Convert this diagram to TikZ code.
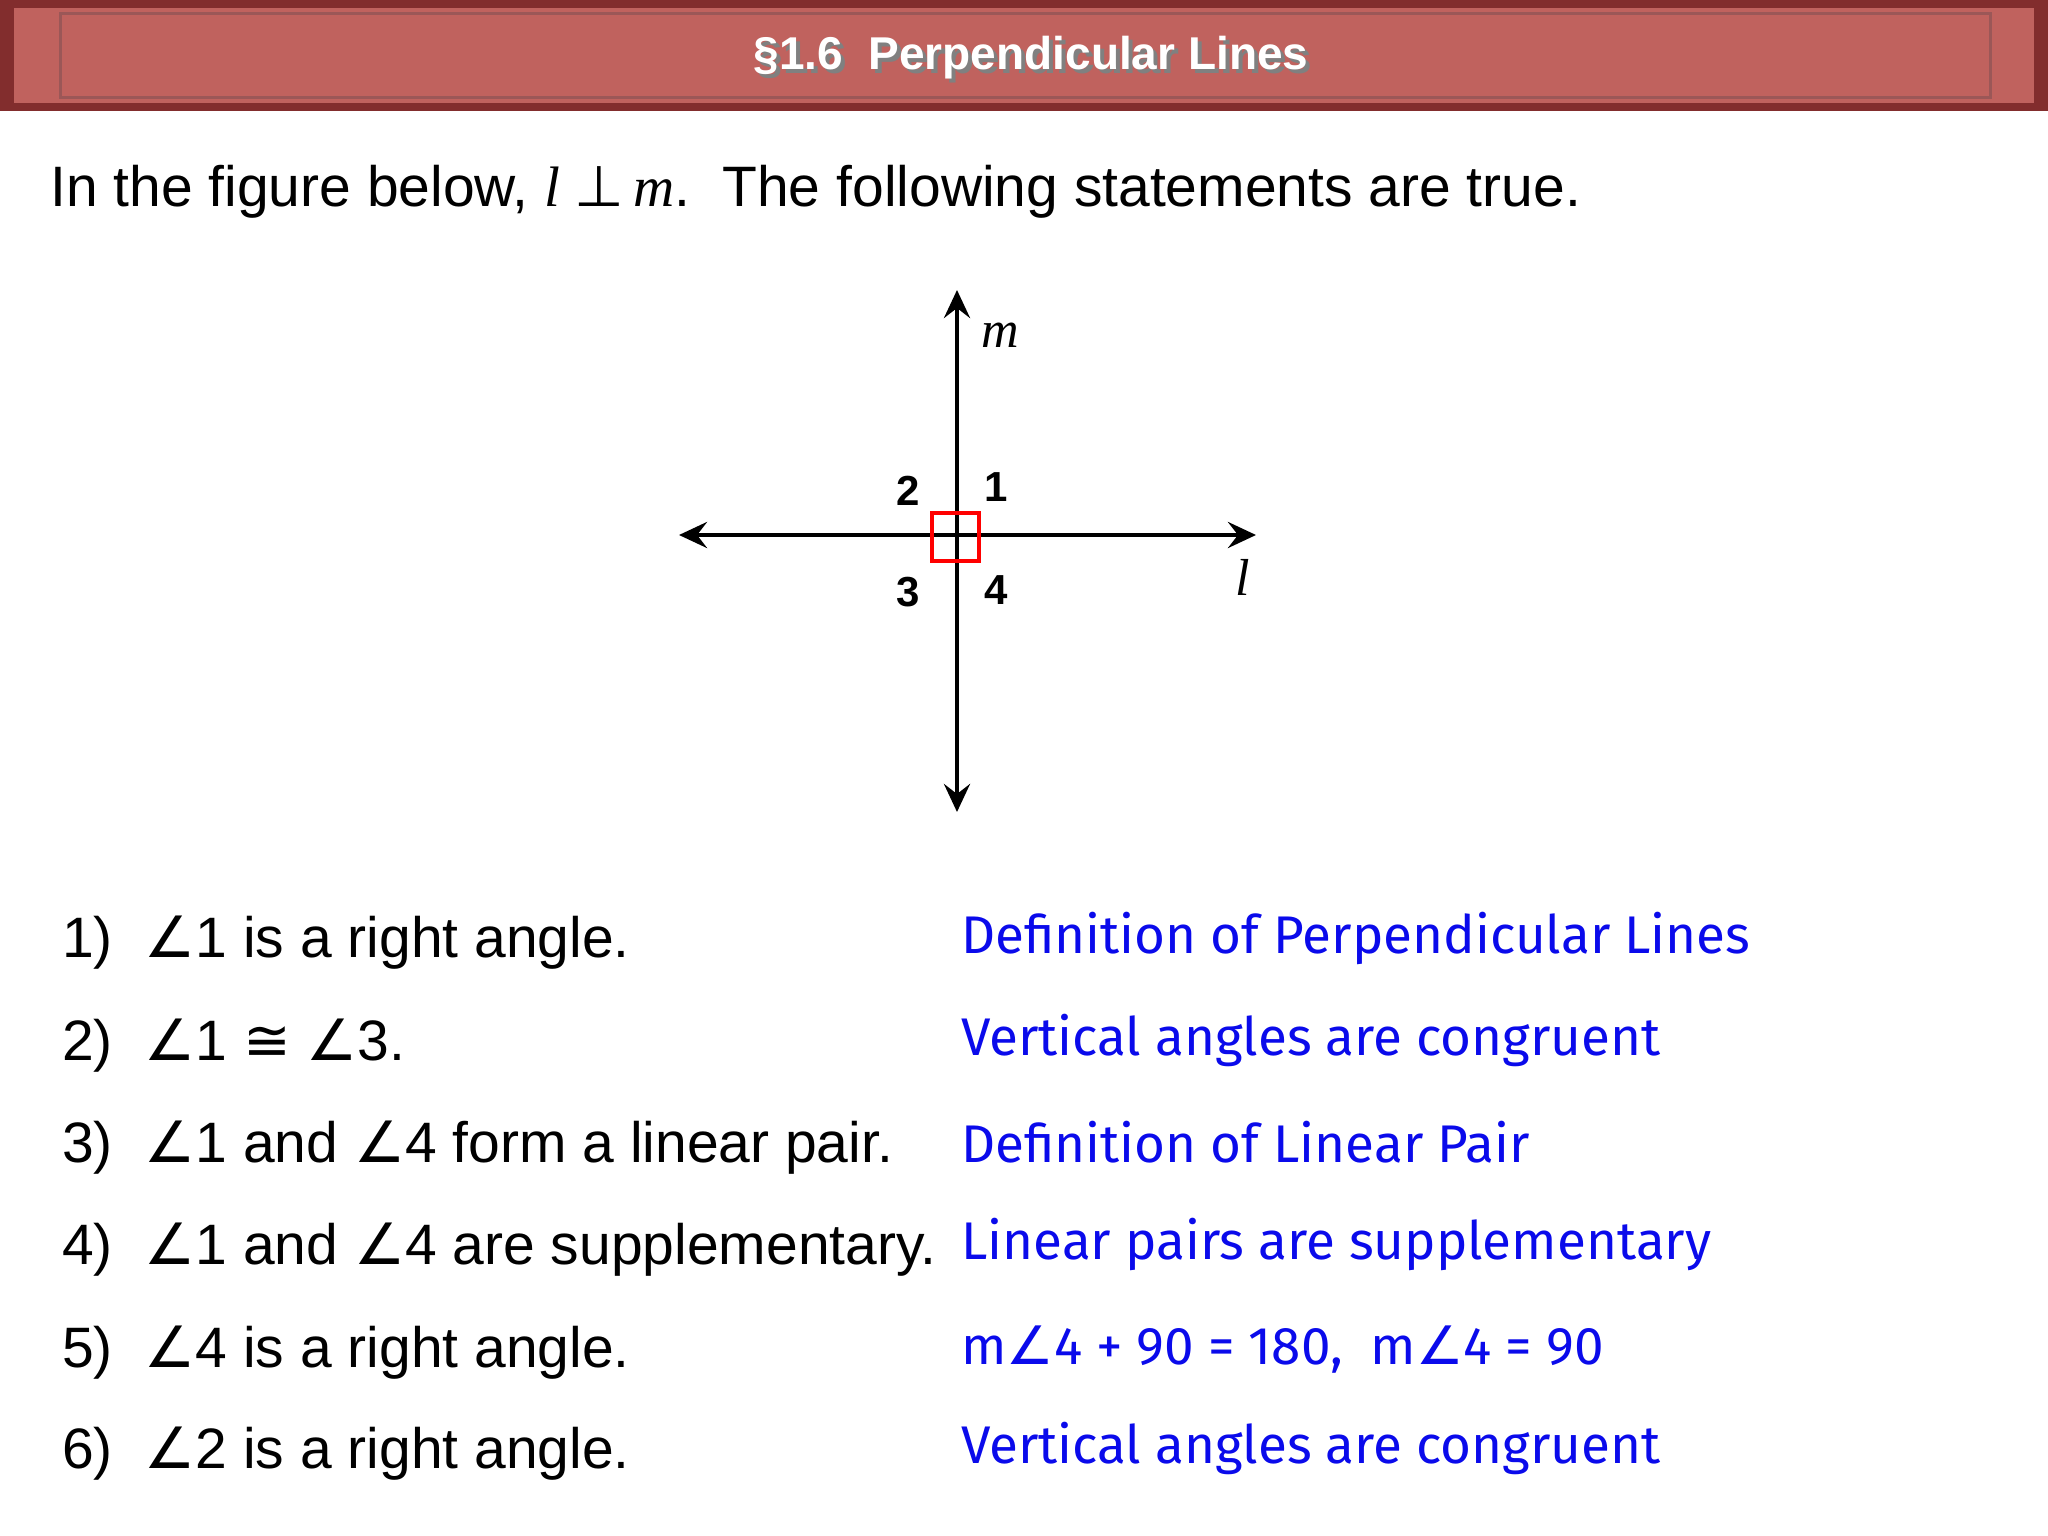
\documentclass[tikz,border=0pt]{standalone}
\usepackage{fontspec}
\setmainfont{Liberation Sans}
\newfontfamily\serifit{Liberation Serif}
\newfontfamily\handfont{Fira Sans}
\newfontfamily\symf{DejaVu Sans}
\newcommand{\ang}{{\symf ∠}}
\usetikzlibrary{arrows.meta}
\definecolor{barred}{RGB}{192,98,94}
\definecolor{bardark}{RGB}{130,45,45}
\definecolor{handblue}{RGB}{10,10,235}
\tikzset{
  stmt/.style={anchor=west,font=\fontsize{57}{62}\selectfont,inner sep=0},
  reason/.style={anchor=west,font=\handfont\fontsize{53}{58}\selectfont,text=handblue,inner sep=0},
  num/.style={font=\bfseries\fontsize{42}{46}\selectfont,inner sep=0},
  axis/.style={line width=4.5pt,{Stealth[length=28pt,width=26pt,inset=10pt]}-{Stealth[length=28pt,width=26pt,inset=10pt]}},
}
\begin{document}
\begin{tikzpicture}[x=1pt,y=1pt]
\useasboundingbox (0,0) rectangle (2048,-1536);
\fill[white] (0,0) rectangle (2048,-1536);
% title bar
\fill[bardark] (0,0) rectangle (2048,-111);
\fill[barred] (14,-8) rectangle (2034,-103);
\draw[bardark!80,line width=3pt] (60,-14) rectangle (1990,-98);
\node[font=\bfseries\fontsize{46}{50}\selectfont,text=gray] (titles) at (1035,-62) {\S1.6\ \ Perpendicular Lines};
\node[font=\bfseries\fontsize{46}{50}\selectfont,text=white] (title) at (1031,-58) {\S1.6\ \ Perpendicular Lines};
% intro
\node[stmt] (intro) at (50,-192) {In the figure below, {\serifit\itshape l }{\symf ⊥}{\serifit\itshape\,m}.\ \ The following statements are true.};
% figure
\coordinate (O) at (957,-535);
\coordinate (top) at (957,-290);
\coordinate (bot) at (957,-812);
\coordinate (lft) at (679,-535);
\coordinate (rgt) at (1256,-535);
\draw[axis] (lft) -- (rgt);
\draw[axis] (bot) -- (top);
\draw[red,line width=4pt] (932,-513) rectangle (979,-561);
\node[num] (n2) at (908,-491) {2};
\node[num] (n1) at (996,-487) {1};
\node[num] (n3) at (908,-592) {3};
\node[num] (n4) at (996,-590) {4};
\node[font=\serifit\itshape\fontsize{52}{56}\selectfont] (lm) at (1000,-335) {m};
\node[font=\serifit\itshape\fontsize{52}{56}\selectfont] (ll) at (1243,-577) {l};
% statements
\node[stmt] (s1) at (62,-943) {1)\ \ \ang1 is a right angle.};
\node[stmt] (s2) at (62,-1046) {2)\ \ \ang1 {\symf ≅} \ang3.};
\node[stmt] (s3) at (62,-1148) {3)\ \ \ang1 and \ang4 form a linear pair.};
\node[stmt] (s4) at (62,-1250) {4)\ \ \ang1 and \ang4 are supplementary.};
\node[stmt] (s5) at (62,-1353) {5)\ \ \ang4 is a right angle.};
\node[stmt] (s6) at (62,-1454) {6)\ \ \ang2 is a right angle.};
\node[reason] (r1) at (961,-938) {Definition of Perpendicular Lines};
\node[reason] (r2) at (961,-1040) {Vertical angles are congruent};
\node[reason] (r3) at (961,-1142) {Definition of Linear Pair};
\node[reason] (r4) at (961,-1244) {Linear pairs are supplementary};
\node[reason] (r5) at (961,-1350) {m\ang4 + 90 = 180,\ \ m\ang4 = 90};
\node[reason] (r6) at (961,-1448) {Vertical angles are congruent};
\end{tikzpicture}
\end{document}
